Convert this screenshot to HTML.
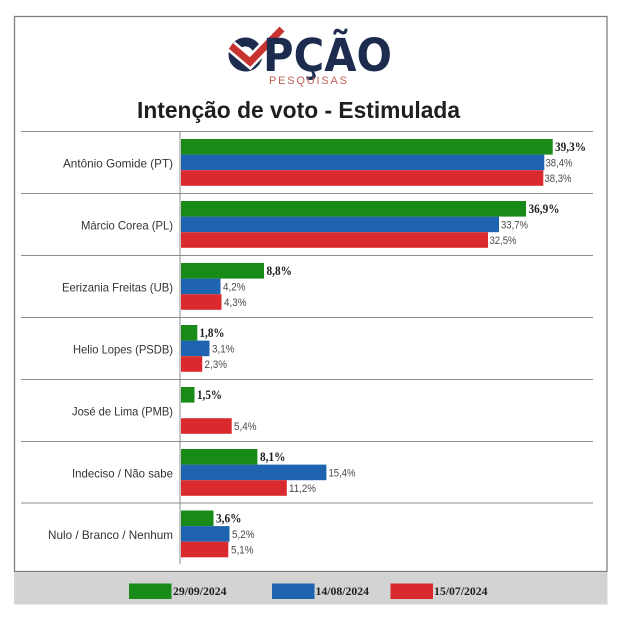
<!DOCTYPE html>
<html><head><meta charset="utf-8"><style>
html,body{margin:0;padding:0;background:#fff;}
svg{display:block;}
</style></head><body>
<svg width="620" height="620" viewBox="0 0 620 620" xmlns="http://www.w3.org/2000/svg">
<rect x="0" y="0" width="620" height="620" fill="#fff"/>
<!-- frame -->
<rect x="14.5" y="16.5" width="592.5" height="555" fill="#fff" stroke="#808080" stroke-width="1.3"/>
<rect x="14" y="572" width="593.5" height="32.5" fill="#d3d3d3"/>

<!-- logo -->
<circle cx="245.5" cy="54.5" r="12.5" fill="none" stroke="#1c2b4e" stroke-width="9"/>
<polyline points="231,46 250,62 282,29" fill="none" stroke="#fff" stroke-width="12" stroke-linecap="butt" stroke-linejoin="miter"/>
<polyline points="231,46 250,62 282,29" fill="none" stroke="#c8322f" stroke-width="7" stroke-linecap="butt" stroke-linejoin="miter"/>
<text x="263" y="71" font-family="DejaVu Sans, Liberation Sans, sans-serif" font-weight="bold" font-size="45" fill="#1c2b4e" textLength="129" lengthAdjust="spacingAndGlyphs">PÇÃO</text>
<text x="269" y="84" font-family="Liberation Sans, sans-serif" font-size="11" fill="#c0605a" textLength="78" lengthAdjust="spacing">PESQUISAS</text>

<!-- title -->
<text x="137" y="118" font-family="Liberation Sans, sans-serif" font-weight="bold" font-size="23" fill="#1e1e1e" textLength="323" lengthAdjust="spacingAndGlyphs">Intenção de voto - Estimulada</text>

<!-- separators -->
<g stroke="#8c8c8c" stroke-width="1">
<line x1="21" y1="131.5" x2="593" y2="131.5"/>
<line x1="21" y1="193.5" x2="593" y2="193.5"/>
<line x1="21" y1="255.5" x2="593" y2="255.5"/>
<line x1="21" y1="317.5" x2="593" y2="317.5"/>
<line x1="21" y1="379.5" x2="593" y2="379.5"/>
<line x1="21" y1="441.5" x2="593" y2="441.5"/>
<line x1="21" y1="503" x2="593" y2="503"/>
<line x1="180" y1="131" x2="180" y2="564"/>
</g>

<!-- labels -->
<g font-family="Liberation Sans, sans-serif" font-size="12" fill="#333" text-anchor="end">
<text x="173" y="167.5" textLength="110" lengthAdjust="spacingAndGlyphs">Antônio Gomide (PT)</text>
<text x="173" y="229.5" textLength="92" lengthAdjust="spacingAndGlyphs">Márcio Corea (PL)</text>
<text x="173" y="291.5" textLength="111" lengthAdjust="spacingAndGlyphs">Eerizania  Freitas (UB)</text>
<text x="173" y="353.5" textLength="100" lengthAdjust="spacingAndGlyphs">Helio Lopes (PSDB)</text>
<text x="173" y="415.5" textLength="101" lengthAdjust="spacingAndGlyphs">José de Lima (PMB)</text>
<text x="173" y="477.5" textLength="101" lengthAdjust="spacingAndGlyphs">Indeciso / Não sabe</text>
<text x="173" y="539" textLength="125" lengthAdjust="spacingAndGlyphs">Nulo / Branco / Nenhum</text>
</g>

<!-- bars: group tops s = 131 + 61.95*i ; green s+8, blue s+23.6, red s+39.2, h 15.6 -->
<g>
<!-- G1 s=131 -->
<rect x="181" y="139" width="371.7" height="15.6" fill="#178a17"/>
<rect x="181" y="154.6" width="363.3" height="15.6" fill="#1e63b0"/>
<rect x="181" y="170.2" width="362.3" height="15.6" fill="#da2a2e"/>
<!-- G2 s=193 -->
<rect x="181" y="201" width="345" height="15.6" fill="#178a17"/>
<rect x="181" y="216.6" width="318" height="15.6" fill="#1e63b0"/>
<rect x="181" y="232.2" width="307" height="15.6" fill="#da2a2e"/>
<!-- G3 s=255 -->
<rect x="181" y="263" width="83" height="15.6" fill="#178a17"/>
<rect x="181" y="278.6" width="39.5" height="15.6" fill="#1e63b0"/>
<rect x="181" y="294.2" width="40.5" height="15.6" fill="#da2a2e"/>
<!-- G4 s=317 -->
<rect x="181" y="325" width="16.3" height="15.6" fill="#178a17"/>
<rect x="181" y="340.6" width="28.5" height="15.6" fill="#1e63b0"/>
<rect x="181" y="356.2" width="21.2" height="15.6" fill="#da2a2e"/>
<!-- G5 s=379 -->
<rect x="181" y="387" width="13.5" height="15.6" fill="#178a17"/>
<rect x="181" y="418.2" width="50.7" height="15.6" fill="#da2a2e"/>
<!-- G6 s=441 -->
<rect x="181" y="449" width="76.4" height="15.6" fill="#178a17"/>
<rect x="181" y="464.6" width="145.4" height="15.6" fill="#1e63b0"/>
<rect x="181" y="480.2" width="105.8" height="15.6" fill="#da2a2e"/>
<!-- G7 s=503 -->
<rect x="181" y="510.5" width="32.5" height="15.6" fill="#178a17"/>
<rect x="181" y="526.1" width="48.5" height="15.6" fill="#1e63b0"/>
<rect x="181" y="541.7" width="47.3" height="15.6" fill="#da2a2e"/>
</g>

<!-- bold values (green) -->
<g font-family="Liberation Serif, serif" font-weight="bold" font-size="12.5" fill="#1e1e1e">
<text x="555" y="151" textLength="31" lengthAdjust="spacingAndGlyphs">39,3%</text>
<text x="528.5" y="213" textLength="31" lengthAdjust="spacingAndGlyphs">36,9%</text>
<text x="266.5" y="275" textLength="25.5" lengthAdjust="spacingAndGlyphs">8,8%</text>
<text x="199.5" y="337" textLength="25" lengthAdjust="spacingAndGlyphs">1,8%</text>
<text x="197" y="399" textLength="25" lengthAdjust="spacingAndGlyphs">1,5%</text>
<text x="260" y="461" textLength="25.5" lengthAdjust="spacingAndGlyphs">8,1%</text>
<text x="216" y="522.5" textLength="25.5" lengthAdjust="spacingAndGlyphs">3,6%</text>
</g>

<!-- regular values -->
<g font-family="Liberation Sans, sans-serif" font-size="11" fill="#4a4a4a">
<text x="545.5" y="166.3" textLength="27" lengthAdjust="spacingAndGlyphs">38,4%</text>
<text x="544.5" y="181.9" textLength="27" lengthAdjust="spacingAndGlyphs">38,3%</text>
<text x="501" y="228.3" textLength="27" lengthAdjust="spacingAndGlyphs">33,7%</text>
<text x="489.5" y="243.9" textLength="27" lengthAdjust="spacingAndGlyphs">32,5%</text>
<text x="223" y="290.3" textLength="22.5" lengthAdjust="spacingAndGlyphs">4,2%</text>
<text x="224" y="305.9" textLength="22.5" lengthAdjust="spacingAndGlyphs">4,3%</text>
<text x="212" y="352.3" textLength="22.5" lengthAdjust="spacingAndGlyphs">3,1%</text>
<text x="204.5" y="367.9" textLength="22.5" lengthAdjust="spacingAndGlyphs">2,3%</text>
<text x="234" y="429.9" textLength="22.5" lengthAdjust="spacingAndGlyphs">5,4%</text>
<text x="328.5" y="476.3" textLength="27" lengthAdjust="spacingAndGlyphs">15,4%</text>
<text x="289" y="491.9" textLength="27" lengthAdjust="spacingAndGlyphs">11,2%</text>
<text x="232" y="537.8" textLength="22.5" lengthAdjust="spacingAndGlyphs">5,2%</text>
<text x="231" y="553.4" textLength="22.5" lengthAdjust="spacingAndGlyphs">5,1%</text>
</g>

<!-- legend -->
<rect x="129" y="583.5" width="42.5" height="15.5" fill="#178a17"/>
<rect x="272" y="583.5" width="42.5" height="15.5" fill="#1e63b0"/>
<rect x="390.5" y="583.5" width="42.5" height="15.5" fill="#da2a2e"/>
<g font-family="Liberation Serif, serif" font-weight="bold" font-size="12" fill="#1e1e1e">
<text x="173" y="595" textLength="53.5" lengthAdjust="spacingAndGlyphs">29/09/2024</text>
<text x="315.5" y="595" textLength="53.5" lengthAdjust="spacingAndGlyphs">14/08/2024</text>
<text x="434" y="595" textLength="53.5" lengthAdjust="spacingAndGlyphs">15/07/2024</text>
</g>
</svg>
</body></html>
